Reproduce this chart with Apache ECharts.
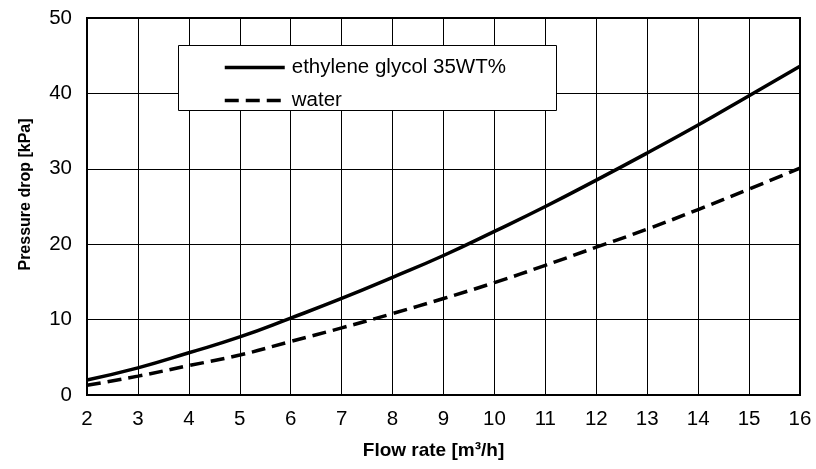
<!DOCTYPE html>
<html>
<head>
<meta charset="utf-8">
<script src="https://cdn.jsdelivr.net/npm/echarts@6/dist/echarts.min.js"></script>
<style>
html,body{margin:0;padding:0;background:#fff;}
#c{width:816px;height:469px;}
</style>
</head>
<body>
<div id="c"></div>
<script>
const flowRates = [2, 3, 4, 5, 6, 7, 8, 9, 10, 11, 12, 13, 14, 15, 16];
const glycolDrop = [2.0, 3.6, 5.6, 7.7, 10.2, 12.8, 15.6, 18.5, 21.7, 25.0, 28.5, 32.1, 35.8, 39.7, 43.6];
const waterDrop = [1.3, 2.5, 3.9, 5.3, 7.1, 8.9, 10.8, 12.8, 14.9, 17.2, 19.6, 22.0, 24.6, 27.3, 30.1];
const seriesNames = ['ethylene glycol 35WT%', 'water'];
const xTitle = 'Flow rate [m³/h]';
const yTitle = 'Pressure drop [kPa]';

const pair = (xs, ys) => xs.map((x, i) => [x, ys[i]]);
const font = '"Liberation Sans", Arial, Helvetica, sans-serif';

const chart = echarts.init(document.getElementById('c'), null, {renderer: 'canvas'});
chart.setOption({
  animation: false,
  backgroundColor: '#fff',
  grid: {left: 87, right: 16, top: 18, bottom: 74, show: true, borderColor: '#000', borderWidth: 2, backgroundColor: 'transparent'},
  xAxis: {
    type: 'value', min: 2, max: 16, interval: 1,
    name: xTitle, nameLocation: 'middle', nameGap: 46,
    nameTextStyle: {fontFamily: font, fontSize: 19, fontWeight: 'bold', color: '#000', padding: [0, 20, 0, 0]},
    axisLine: {lineStyle: {color: '#000', width: 2}},
    axisTick: {show: false},
    axisLabel: {fontFamily: font, fontSize: 20.5, color: '#000', margin: 14},
    splitLine: {show: true, lineStyle: {color: '#000', width: 1}}
  },
  yAxis: {
    type: 'value', min: 0, max: 50, interval: 10,
    name: yTitle, nameLocation: 'middle', nameGap: 53,
    nameTextStyle: {fontFamily: font, fontSize: 16, fontWeight: 'bold', color: '#000', padding: [0, 0, 0, 24]},
    axisLine: {show: true, lineStyle: {color: '#000', width: 2}},
    axisTick: {show: false},
    axisLabel: {fontFamily: font, fontSize: 20.5, color: '#000', margin: 15},
    splitLine: {show: true, lineStyle: {color: '#000', width: 1}}
  },
  graphic: [{
    type: 'rect', left: 178, top: 45, z: 50,
    shape: {width: 378, height: 65},
    style: {fill: '#fff', stroke: '#000', lineWidth: 1}
  }],
  legend: {
    left: 218, top: 52, orient: 'vertical', z: 60,
    itemWidth: 60, itemHeight: 20, itemGap: 12,
    itemStyle: {opacity: 0},
    lineStyle: {width: 3.5},
    textStyle: {fontFamily: font, fontSize: 20.5, color: '#000', padding: [0, 0, 0, 2]},
    data: seriesNames
  },
  series: [
    {
      name: seriesNames[0], type: 'line', smooth: true, symbol: 'none',
      data: pair(flowRates, glycolDrop),
      lineStyle: {color: '#000', width: 3.5},
      itemStyle: {color: '#000'}
    },
    {
      name: seriesNames[1], type: 'line', smooth: true, symbol: 'none',
      data: pair(flowRates, waterDrop),
      lineStyle: {color: '#000', width: 3.5, type: [14, 7]},
      itemStyle: {color: '#000'}
    }
  ]
});
</script>
</body>
</html>
